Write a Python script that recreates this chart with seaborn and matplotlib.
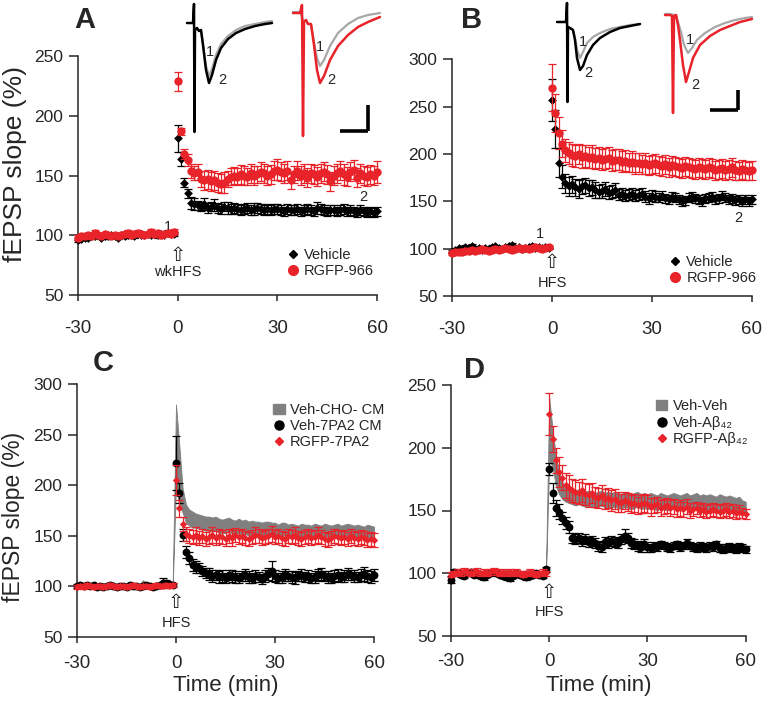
import numpy as np
import matplotlib
matplotlib.use("Agg")
import matplotlib.pyplot as plt
import seaborn as sns
from matplotlib.lines import Line2D
from matplotlib.patches import Patch

sns.set_style("ticks")
plt.rcParams["font.family"] = ["Liberation Sans", "DejaVu Sans"]
plt.rcParams["axes.unicode_minus"] = False

RED = "#e8232a"
GRAY_BAND = "#808080"
GRAY_TRACE = "#a8a8a8"

# 时间轴 (min)
t_pre = np.arange(-30, 0)
t_post = np.arange(0, 61)

# ---------------- A: wkHFS ----------------
a_veh_pre = [96, 97, 98, 98, 99, 99, 100, 98, 99, 99, 100, 99, 98, 100, 99,
             100, 100, 99, 101, 100, 100, 101, 100, 101, 100, 101, 100, 102, 101, 101]
a_veh_post = [181, 164, 144, 135, 127, 126, 125, 124, 126, 123,
              124, 125, 123, 122, 124, 123, 122, 123, 122, 121,
              122, 123, 121, 122, 123, 122, 121, 122, 121, 122,
              122, 121, 120, 122, 121, 121, 122, 120, 121, 122,
              121, 120, 123, 122, 121, 120, 121, 121, 120, 121,
              122, 120, 121, 120, 119, 121, 120, 119, 120, 119, 120]
a_veh_err_pre = [2, 1, 1, 1, 2, 1, 1, 1, 2, 1, 1, 1, 1, 2, 1,
                 1, 1, 1, 2, 1, 1, 1, 1, 1, 2, 1, 1, 2, 1, 2]
a_veh_err_post = [11, 6, 4, 4, 5, 5, 4, 4, 5, 4, 4, 5, 4, 4, 4, 5, 4, 4, 4, 4,
                  4, 4, 4, 5, 4, 4, 4, 4, 4, 4, 4, 4, 4, 4, 4, 4, 4, 4, 4, 4,
                  4, 4, 5, 4, 4, 4, 4, 4, 4, 4, 4, 4, 4, 4, 4, 4, 4, 4, 4, 4, 4]
a_rgfp_pre = [98, 99, 99, 100, 99, 102, 100, 99, 101, 100, 99, 100, 99, 100, 101,
              102, 100, 101, 102, 101, 100, 101, 103, 101, 102, 100, 101, 102, 101, 103]
a_rgfp_post = [229, 187, 168, 163, 154, 152, 153, 147, 146, 147,
               145, 146, 144, 143, 144, 147, 149, 150, 149, 151,
               150, 149, 152, 150, 151, 153, 152, 150, 151, 154,
               155, 153, 152, 154, 146, 151, 154, 150, 152, 148,
               152, 151, 149, 152, 153, 151, 145, 150, 152, 154,
               151, 149, 153, 155, 148, 152, 150, 149, 151, 150, 153]
a_rgfp_err_pre = [2, 2, 1, 1, 2, 2, 1, 1, 2, 1, 1, 2, 1, 1, 1,
                  2, 1, 1, 2, 1, 1, 1, 2, 1, 1, 2, 1, 1, 1, 2]
a_rgfp_err_post = [8, 3, 4, 5, 6, 6, 7, 7, 8, 8, 8, 8, 8, 8, 9, 7, 7, 7, 7, 8,
                   8, 7, 8, 8, 7, 8, 8, 8, 8, 8, 9, 8, 8, 8, 7, 7, 8, 8, 8, 8,
                   8, 8, 8, 8, 8, 8, 8, 8, 8, 8, 9, 8, 8, 8, 8, 8, 8, 8, 8, 8, 9]

# ---------------- B: HFS ----------------
b_veh_pre = [97, 99, 101, 100, 102, 101, 103, 100, 101, 99, 101, 100, 102, 103, 101,
             100, 102, 103, 104, 101, 102, 100, 101, 102, 103, 101, 102, 101, 102, 101]
b_veh_post = [257, 226, 191, 176, 169, 166, 168, 165, 163, 166,
              167, 164, 165, 162, 160, 161, 163, 159, 160, 162,
              157, 158, 156, 157, 158, 156, 157, 158, 155, 153,
              156, 155, 154, 156, 153, 152, 155, 154, 152, 150,
              151, 154, 155, 153, 152, 150, 153, 154, 155, 152,
              153, 156, 154, 152, 153, 151, 152, 150, 152, 150, 152]
b_veh_err_pre = [2, 2, 1, 2, 2, 1, 2, 1, 2, 1, 1, 2, 2, 1, 1,
                 2, 1, 2, 2, 1, 1, 2, 1, 1, 2, 1, 1, 2, 1, 1]
b_veh_err_post = [22, 20, 15, 12, 10, 10, 9, 9, 9, 8, 8, 8, 8, 8, 7, 7, 7, 7, 7, 7,
                  6, 6, 6, 6, 6, 6, 6, 6, 6, 6, 6, 6, 5, 5, 5, 5, 5, 5, 5, 5,
                  5, 5, 5, 5, 5, 5, 5, 5, 5, 5, 5, 5, 5, 5, 5, 5, 5, 5, 5, 5, 5]
b_rgfp_pre = [95, 96, 97, 97, 98, 98, 99, 98, 99, 100, 99, 98, 99, 100, 99,
              100, 101, 100, 99, 100, 101, 100, 101, 100, 101, 102, 101, 100, 101, 102]
b_rgfp_post = [270, 243, 222, 211, 204, 201, 199, 198, 200, 197,
               198, 196, 197, 195, 196, 194, 195, 196, 193, 194,
               194, 192, 193, 191, 192, 190, 191, 189, 190, 188,
               189, 190, 188, 187, 189, 186, 188, 187, 186, 185,
               187, 186, 185, 184, 186, 185, 184, 186, 185, 183,
               184, 185, 183, 184, 186, 183, 182, 184, 183, 182, 183]
b_rgfp_err_pre = [2, 2, 2, 1, 2, 2, 1, 2, 2, 1, 2, 1, 2, 2, 1,
                  2, 1, 2, 2, 1, 2, 1, 2, 2, 1, 2, 1, 2, 1, 2]
b_rgfp_err_post = [25, 20, 17, 14, 12, 12, 12, 12, 11, 12, 12, 11, 12, 11, 11, 11, 11, 11, 11, 11,
                   11, 11, 11, 10, 11, 11, 10, 10, 11, 10, 10, 10, 10, 10, 10, 10, 10, 10, 10, 10,
                   10, 10, 10, 10, 10, 10, 10, 10, 10, 10, 10, 10, 10, 10, 10, 10, 10, 10, 10, 10, 10]

# ---------------- C: 7PA2 CM ----------------
c_cho_pre = [100, 101, 100, 100, 101, 100, 99, 100, 101, 100, 100, 101, 100, 99, 100,
             100, 101, 100, 101, 100, 103, 101, 100, 100, 101, 100, 100, 101, 100, 101]
c_cho_post = [240, 210, 185, 172, 168, 166, 165, 164, 163, 162,
              162, 161, 162, 160, 159, 160, 161, 159, 158, 160,
              158, 159, 157, 158, 157, 158, 156, 157, 158, 156,
              157, 155, 156, 157, 155, 156, 155, 154, 156, 155,
              155, 154, 156, 155, 154, 156, 155, 154, 155, 156,
              154, 155, 156, 155, 154, 155, 154, 153, 155, 154, 153]
c_cho_err_pre = [2, 2, 2, 2, 2, 2, 2, 2, 2, 2, 2, 2, 2, 2, 2,
                 2, 2, 2, 2, 2, 3, 2, 2, 2, 2, 2, 2, 2, 2, 2]
c_cho_err_post = [40, 30, 12, 9, 8, 8, 7, 7, 7, 7, 7, 7, 7, 7, 7, 7, 7, 7, 7, 7,
                  7, 7, 7, 7, 7, 6, 7, 7, 6, 7, 6, 6, 7, 6, 6, 6, 6, 6, 6, 6,
                  6, 6, 6, 6, 6, 6, 6, 6, 6, 6, 6, 6, 6, 6, 6, 6, 6, 6, 6, 6, 6]
c_7pa2_pre = [100, 101, 100, 101, 100, 101, 99, 100, 99, 100, 101, 100, 99, 100, 100,
              99, 101, 100, 100, 99, 100, 101, 100, 99, 100, 101, 103, 103, 102, 101]
c_7pa2_post = [222, 192, 151, 134, 128, 121, 119, 118, 115, 113,
               112, 110, 111, 109, 110, 108, 111, 110, 109, 108,
               110, 111, 109, 108, 110, 109, 107, 110, 112, 115,
               110, 108, 109, 111, 110, 109, 108, 110, 111, 109,
               110, 108, 109, 111, 112, 110, 109, 108, 110, 111,
               109, 110, 112, 111, 110, 109, 111, 112, 110, 109, 111]
c_7pa2_err_pre = [2, 2, 1, 2, 2, 1, 2, 2, 1, 2, 2, 1, 2, 2, 1,
                  2, 2, 1, 2, 2, 1, 2, 2, 1, 2, 2, 5, 3, 2, 2]
c_7pa2_err_post = [27, 10, 6, 6, 6, 6, 6, 5, 5, 5, 6, 6, 5, 6, 6, 5, 5, 6, 6, 5,
                   5, 6, 6, 5, 6, 5, 5, 6, 6, 10, 6, 5, 6, 6, 5, 6, 6, 5, 6, 5,
                   6, 5, 6, 6, 6, 5, 6, 5, 6, 6, 5, 6, 6, 5, 6, 5, 6, 7, 6, 6, 6]
c_rgfp_pre = [99, 100, 99, 101, 100, 99, 100, 100, 99, 100, 101, 100, 99, 100, 100,
              99, 100, 101, 100, 99, 100, 100, 99, 100, 101, 100, 100, 101, 100, 101]
c_rgfp_post = [205, 177, 162, 152, 150, 149, 151, 148, 150, 147,
               149, 151, 148, 150, 149, 147, 150, 148, 151, 149,
               150, 148, 147, 149, 151, 150, 148, 149, 150, 152,
               149, 150, 148, 147, 150, 149, 151, 148, 147, 149,
               150, 148, 149, 151, 149, 147, 146, 148, 150, 149,
               148, 149, 147, 150, 148, 147, 149, 148, 146, 147, 146]
c_rgfp_err_pre = [2, 2, 2, 2, 2, 2, 2, 2, 2, 2, 2, 2, 2, 2, 2,
                  2, 2, 2, 2, 2, 2, 2, 2, 2, 2, 2, 2, 2, 2, 2]
c_rgfp_err_post = [15, 8, 7, 7, 7, 7, 8, 7, 7, 7, 7, 8, 7, 7, 7, 7, 7, 8, 7, 7,
                   7, 7, 7, 7, 8, 7, 7, 7, 7, 8, 7, 7, 7, 7, 7, 7, 8, 7, 7, 7,
                   7, 7, 7, 8, 7, 7, 7, 7, 7, 7, 7, 7, 7, 7, 7, 7, 7, 7, 7, 7, 7]

# ---------------- D: Abeta42 ----------------
d_veh_pre = [100, 100, 101, 100, 100, 101, 100, 100, 99, 100, 100, 101, 100, 100, 99,
             100, 100, 101, 100, 100, 100, 99, 100, 100, 101, 100, 100, 99, 100, 100]
d_veh_post = [215, 200, 182, 172, 166, 163, 162, 161, 160, 161,
              160, 159, 160, 159, 158, 159, 160, 158, 159, 158,
              159, 158, 157, 159, 158, 157, 158, 159, 157, 158,
              157, 158, 157, 156, 158, 157, 156, 157, 158, 157,
              156, 157, 158, 156, 157, 158, 156, 157, 156, 157,
              156, 155, 157, 156, 155, 156, 155, 154, 155, 153, 152]
d_veh_err_pre = [2, 2, 2, 2, 2, 2, 2, 2, 2, 2, 2, 2, 2, 2, 2,
                 2, 2, 2, 2, 2, 2, 2, 2, 2, 2, 2, 2, 2, 2, 2]
d_veh_err_post = [25, 15, 12, 9, 7, 6, 6, 6, 6, 6, 6, 6, 6, 6, 6, 6, 6, 6, 6, 6,
                  6, 6, 6, 6, 6, 6, 6, 6, 6, 6, 6, 6, 6, 6, 6, 6, 6, 6, 6, 6,
                  6, 6, 6, 6, 6, 6, 6, 6, 6, 6, 6, 6, 6, 6, 6, 6, 6, 6, 6, 5, 5]
d_ab_pre = [95, 101, 100, 99, 98, 100, 101, 99, 100, 98, 97, 99, 100, 101, 100,
            99, 98, 97, 96, 98, 100, 99, 98, 97, 98, 99, 100, 99, 98, 103]
d_ab_post = [183, 164, 152, 149, 144, 140, 137, 128, 127, 128,
             126, 127, 125, 126, 124, 122, 121, 125, 124, 126,
             125, 124, 127, 130, 128, 124, 123, 122, 121, 123,
             121, 120, 122, 121, 123, 122, 121, 120, 122, 123,
             121, 122, 124, 122, 121, 120, 122, 121, 120, 122,
             121, 123, 120, 119, 120, 121, 120, 119, 121, 120, 119]
d_ab_err_pre = [3, 2, 2, 2, 2, 2, 2, 2, 2, 2, 2, 2, 2, 2, 2,
                2, 2, 2, 2, 2, 2, 2, 2, 2, 2, 2, 2, 2, 2, 2]
d_ab_err_post = [5, 8, 6, 6, 5, 5, 5, 4, 4, 4, 4, 4, 4, 4, 4, 4, 4, 4, 4, 4,
                 4, 4, 4, 5, 4, 4, 4, 4, 4, 4, 4, 3, 3, 3, 3, 3, 3, 3, 3, 3,
                 3, 3, 3, 3, 3, 3, 3, 3, 3, 3, 3, 3, 3, 3, 3, 3, 3, 3, 3, 3, 3]
d_rgfp_pre = [99, 100, 101, 100, 102, 101, 100, 101, 102, 100, 101, 100, 101, 102, 101,
              100, 101, 100, 101, 100, 101, 100, 99, 100, 101, 100, 99, 100, 101, 100]
d_rgfp_post = [227, 207, 190, 181, 176, 170, 168, 166, 165, 164,
               166, 163, 162, 164, 161, 160, 162, 159, 160, 158,
               159, 157, 156, 158, 157, 155, 156, 154, 155, 156,
               155, 153, 154, 155, 152, 153, 154, 152, 153, 151,
               152, 151, 153, 150, 151, 152, 150, 151, 149, 150,
               151, 150, 149, 150, 151, 149, 150, 148, 149, 148, 147]
d_rgfp_err_pre = [2, 2, 2, 2, 2, 2, 2, 2, 2, 2, 2, 2, 2, 2, 2,
                  2, 2, 2, 2, 2, 2, 2, 2, 2, 2, 2, 2, 2, 2, 2]
d_rgfp_err_post = [17, 10, 10, 12, 10, 10, 10, 9, 9, 9, 9, 9, 9, 8, 8, 8, 8, 8, 8, 8,
                   8, 8, 7, 7, 7, 7, 7, 7, 7, 7, 7, 7, 6, 6, 6, 6, 6, 6, 6, 6,
                   6, 6, 6, 6, 5, 5, 5, 5, 5, 5, 5, 5, 5, 5, 5, 5, 5, 5, 5, 4, 4]

# ---------------- 插图: fEPSP 波形 (局部坐标) ----------------
ins_a_blk_t = [4, 10, 11, 11.5, 12, 14, 16, 18, 20, 23, 26, 29, 33, 38, 45, 53, 62, 72, 82, 89]
ins_a_blk_v = [23, 23, 4, 132, 30, 28, 31, 30, 45, 70, 83, 75, 60, 48, 39, 33, 29, 26, 24, 23]
ins_a_gry_t = [12, 14, 16, 18, 20, 23, 26, 29, 33, 38, 45, 53, 62, 72, 82, 89]
ins_a_gry_v = [30, 28, 31, 30, 44, 66, 76, 69, 55, 44, 36, 30, 26, 24, 22, 21]
ins_a_red_t = [5, 12, 14, 15, 16, 18, 20, 23, 26, 29, 32, 36, 42, 50, 60, 70, 80, 92]
ins_a_red_v = [13, 13, 5, 136, 22, 20, 24, 24, 45, 70, 83, 76, 60, 46, 35, 27, 22, 17]
ins_a_rg_t = [5, 12, 16, 18, 20, 23, 26, 29, 32, 36, 42, 50, 60, 70, 80, 92]
ins_a_rg_v = [12, 12, 22, 20, 24, 24, 42, 58, 66, 60, 46, 33, 24, 18, 15, 13]

ins_b_blk_t = [7, 16, 17, 17.5, 18, 20, 23, 25, 27, 30, 33, 37, 43, 50, 60, 70, 80, 90]
ins_b_blk_v = [22, 22, 3, 102, 27, 28, 30, 40, 58, 70, 66, 55, 45, 38, 32, 28, 26, 24]
ins_b_gry_t = [18, 20, 23, 25, 27, 30, 33, 37, 43, 50, 60, 70, 80, 90]
ins_b_gry_v = [27, 28, 30, 38, 50, 58, 52, 43, 37, 33, 29, 27, 25, 24]
ins_b_red_t = [10, 15, 17, 18, 19, 21, 23, 25, 28, 31, 34, 38, 45, 55, 65, 75, 85, 97]
ins_b_red_v = [15, 15, 16, 113, 16, 15, 25, 40, 65, 82, 72, 58, 45, 36, 30, 26, 22, 19]
ins_b_rg_t = [10, 15, 19, 21, 23, 26, 29, 33, 37, 42, 50, 60, 70, 80, 90, 97]
ins_b_rg_v = [14, 14, 15, 15, 22, 32, 45, 53, 48, 40, 33, 27, 23, 20, 18, 17]

W, H = 765, 702
fig = plt.figure(figsize=(W / 100, H / 100), dpi=100)


def px_axes(x0, y0, x1, y1):
    return fig.add_axes([x0 / W, 1 - y1 / H, (x1 - x0) / W, (y1 - y0) / H])


def draw(ax, pre, post, epre, epost, color, marker, s, label, z):
    t = np.concatenate([t_pre, t_post])
    y = np.array(pre + post, dtype=float)
    e = np.array(epre + epost, dtype=float)
    ax.errorbar(t, y, yerr=e, fmt="none", ecolor=color, elinewidth=0.9,
                capsize=3, capthick=0.9, zorder=z, clip_on=False)
    sns.scatterplot(x=t, y=y, marker=marker, color=color, s=s, linewidth=0,
                    ax=ax, zorder=z + 0.5, clip_on=False, label=label, legend=False)


def band(ax, pre, post, epre, epost, label):
    t = np.concatenate([t_pre, t_post])
    y = np.array(pre + post, dtype=float)
    e = np.array(epre + epost, dtype=float)
    ax.fill_between(t, y - e, y + e, color=GRAY_BAND, lw=0.6, zorder=1, label=label)


def style(ax, ylim, yticks, xpad):
    ax.set_xlim(-30, 60)
    ax.set_ylim(*ylim)
    ax.set_xticks([-30, 0, 30, 60])
    ax.set_yticks(yticks)
    sns.despine(ax=ax)
    for sp in ["left", "bottom"]:
        ax.spines[sp].set_linewidth(1.1)
    ax.tick_params(axis="y", length=6.5, width=1.1, labelsize=12.5, pad=4)
    ax.tick_params(axis="x", length=4, width=1.1, labelsize=13.5, pad=xpad)
    ax.patch.set_alpha(0)


def stim(ax, y_arrow, y_text, text):
    ax.text(0, y_arrow, "\u21e7", ha="center", va="center", fontsize=14,
            family=["DejaVu Sans"], color="#222222")
    ax.text(0, y_text, text, ha="center", va="center", fontsize=10.5, color="#222222")


# ---------------- 主图 ----------------
axA = px_axes(78, 56, 377, 295)
draw(axA, a_veh_pre, a_veh_post, a_veh_err_pre, a_veh_err_post, "black", "D", 20, "Vehicle", 3)
draw(axA, a_rgfp_pre, a_rgfp_post, a_rgfp_err_pre, a_rgfp_err_post, RED, "o", 36, "RGFP-966", 4)
style(axA, (50, 250), [50, 100, 150, 200, 250], 14)
stim(axA, 83, 69, "wkHFS")
axA.text(-3, 107, "1", ha="center", va="center", fontsize=10.5)
axA.text(56, 132, "2", ha="center", va="center", fontsize=10.5)
axA.set_ylabel("fEPSP slope (%)", fontsize=19)
axA.yaxis.set_label_coords(-0.172, 0.55)

axB = px_axes(452, 59.3, 752, 296)
draw(axB, b_veh_pre, b_veh_post, b_veh_err_pre, b_veh_err_post, "black", "D", 20, "Vehicle", 3)
draw(axB, b_rgfp_pre, b_rgfp_post, b_rgfp_err_pre, b_rgfp_err_post, RED, "o", 36, "RGFP-966", 4)
style(axB, (50, 300), [50, 100, 150, 200, 250, 300], 14)
stim(axB, 85, 64, "HFS")
axB.text(-3.6, 116, "1", ha="center", va="center", fontsize=10.5)
axB.text(56, 132, "2", ha="center", va="center", fontsize=10.5)

axC = px_axes(77, 384.3, 374, 636.7)
band(axC, c_cho_pre, c_cho_post, c_cho_err_pre, c_cho_err_post, "Veh-CHO- CM")
draw(axC, c_7pa2_pre, c_7pa2_post, c_7pa2_err_pre, c_7pa2_err_post, "black", "o", 32, "Veh-7PA2 CM", 3)
draw(axC, c_rgfp_pre, c_rgfp_post, c_rgfp_err_pre, c_rgfp_err_post, RED, "D", 14, "RGFP-7PA2", 4)
style(axC, (50, 300), [50, 100, 150, 200, 250, 300], 9)
stim(axC, 83.5, 63.5, "HFS")
axC.set_xlabel("Time (min)", fontsize=16, labelpad=2)
axC.set_ylabel("fEPSP slope (%)", fontsize=16.5)
axC.yaxis.set_label_coords(-0.175, 0.474)

axD = px_axes(451, 385, 745.7, 636)
band(axD, d_veh_pre, d_veh_post, d_veh_err_pre, d_veh_err_post, "Veh-Veh")
draw(axD, d_ab_pre, d_ab_post, d_ab_err_pre, d_ab_err_post, "black", "o", 32, "Veh-A\u03b2\u2084\u2082", 3)
draw(axD, d_rgfp_pre, d_rgfp_post, d_rgfp_err_pre, d_rgfp_err_post, RED, "D", 14, "RGFP-A\u03b2\u2084\u2082", 4)
style(axD, (50, 250), [50, 100, 150, 200, 250], 8)
stim(axD, 85, 69, "HFS")
axD.set_xlabel("Time (min)", fontsize=16, labelpad=4)

# 图例
leg_kw = dict(frameon=False, fontsize=10.5, handlelength=0.8, handletextpad=0.35,
              labelspacing=0.15, borderpad=0, borderaxespad=0, loc="center left")
for ax, anchor in [(axA, (0.70, 0.135)), (axB, (0.725, 0.11))]:
    handles = [Line2D([], [], marker="D", ls="none", color="black", ms=4.5),
               Line2D([], [], marker="o", ls="none", color=RED, ms=7)]
    ax.legend(handles=handles, labels=["Vehicle", "RGFP-966"], bbox_to_anchor=anchor, **leg_kw)
for ax, anchor, labs in [(axC, (0.66, 0.835), ["Veh-CHO- CM", "Veh-7PA2 CM", "RGFP-7PA2"]),
                         (axD, (0.695, 0.85), ["Veh-Veh", "Veh-A\u03b2\u2084\u2082", "RGFP-A\u03b2\u2084\u2082"])]:
    handles = [Patch(color=GRAY_BAND),
               Line2D([], [], marker="o", ls="none", color="black", ms=6.5),
               Line2D([], [], marker="D", ls="none", color=RED, ms=4.5)]
    ax.legend(handles=handles, labels=labs, bbox_to_anchor=anchor, **leg_kw)

# 面板字母
for letter, x, y in [("A", 85, 20), ("B", 472, 20), ("C", 103, 363), ("D", 475, 370)]:
    fig.text(x / W, 1 - y / H, letter, fontsize=21, fontweight="bold", ha="center", va="center")


# ---------------- 插图 ----------------
def inset(box, t1, v1, c1, t2, v2, c2, n1, n2, bar=None):
    ax = px_axes(*box)
    w, h = box[2] - box[0], box[3] - box[1]
    ax.set_xlim(0, w)
    ax.set_ylim(h, 0)
    ax.axis("off")
    sns.lineplot(x=t2, y=v2, color=c2, lw=1.6, ax=ax, sort=False, estimator=None)
    sns.lineplot(x=t1, y=v1, color=c1, lw=1.8, ax=ax, sort=False, estimator=None)
    ax.text(*n1, "1", fontsize=10.5, ha="center", va="center")
    ax.text(*n2, "2", fontsize=10.5, ha="center", va="center")
    if bar is not None:
        bx, by0, by1, bl = bar
        ax.plot([bx, bx], [by0, by1], color="black", lw=2.6, solid_capstyle="butt")
        ax.plot([bx - bl, bx], [by1, by1], color="black", lw=2.6, solid_capstyle="butt")
    return ax


inset((183, 0, 283, 140), ins_a_blk_t, ins_a_blk_v, "black", ins_a_gry_t, ins_a_gry_v, GRAY_TRACE,
      (27, 52), (39, 80))
inset((288, 0, 388, 140), ins_a_red_t, ins_a_red_v, RED, ins_a_rg_t, ins_a_rg_v, GRAY_TRACE,
      (32, 47), (43, 80), bar=(80, 105, 131, 28))
inset((550, 0, 650, 120), ins_b_blk_t, ins_b_blk_v, "black", ins_b_gry_t, ins_b_gry_v, GRAY_TRACE,
      (33, 42), (38, 73))
inset((655, 0, 755, 120), ins_b_red_t, ins_b_red_v, RED, ins_b_rg_t, ins_b_rg_v, GRAY_TRACE,
      (35, 40), (40, 85), bar=(83, 90, 110, 28))

fig.savefig("out.png", dpi=100)
